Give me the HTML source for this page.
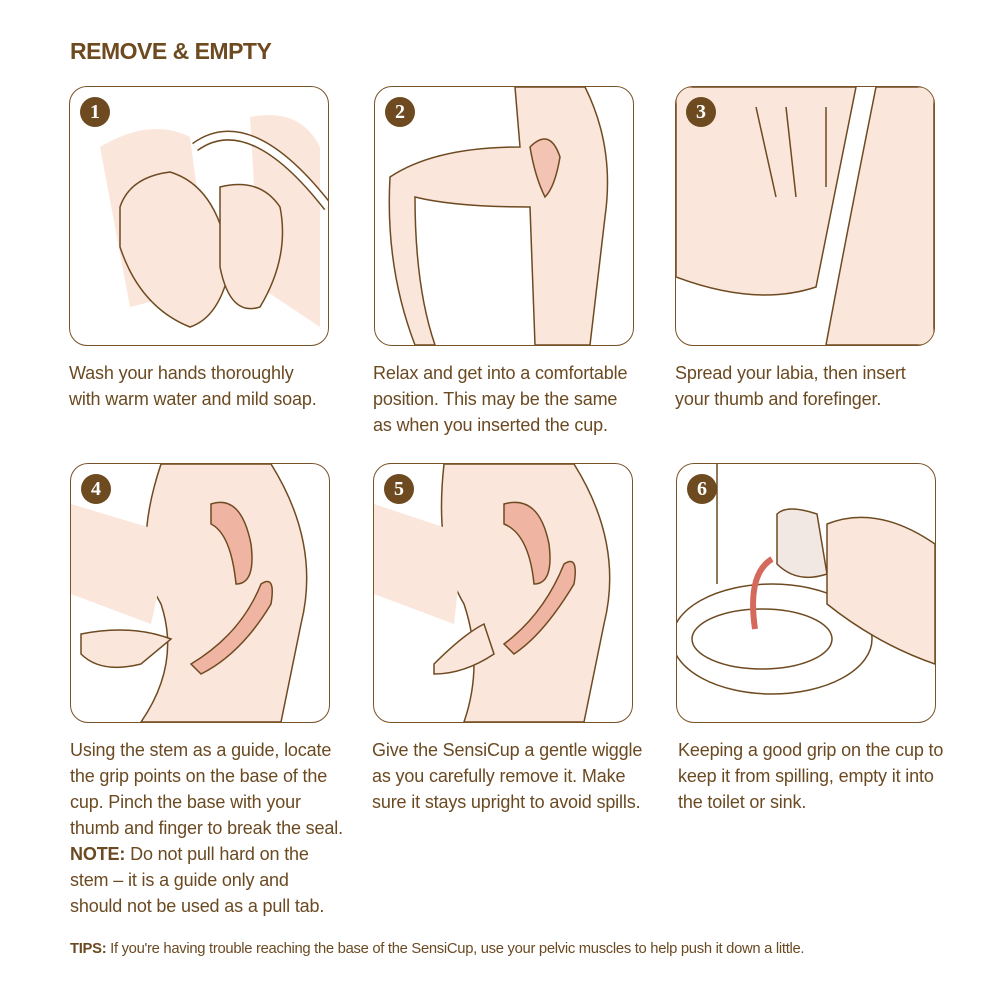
<!DOCTYPE html>
<html><head><meta charset="utf-8"><style>
body{margin:0;width:1000px;height:1000px;background:#fff;position:relative;font-family:"Liberation Sans",sans-serif;color:#6b4a22;overflow:hidden}
h1{position:absolute;left:70px;top:38px;margin:0;font-size:23px;font-weight:bold;color:#6e4a21;letter-spacing:-0.5px}
.p{position:absolute;width:258px;height:258px;border:1.6px solid #7a5228;border-radius:18px;overflow:hidden;background:#fff}
.n{position:absolute;left:10px;top:10px;width:30px;height:30px;border-radius:50%;background:#6e4a21;color:#fff;font-size:20px;text-align:center;line-height:30px;z-index:2;font-family:"Liberation Serif",serif;font-weight:bold}
.t{position:absolute;font-size:18px;line-height:26px;white-space:nowrap;letter-spacing:-0.15px}
.tips{position:absolute;left:70px;top:941px;font-size:14.8px;white-space:nowrap;letter-spacing:-0.3px}
svg{position:absolute;left:0;top:0}
</style></head><body>
<h1>REMOVE &amp; EMPTY</h1>

<div class="p" style="left:69px;top:86px"><div class="n">1</div>
<svg width="258" height="258"><path d="M30 60 Q80 30 120 50 L140 200 L60 220Z" fill="#fbe6dc"/><path d="M180 30 Q230 20 250 60 L250 240 L190 200Z" fill="#fbe6dc"/>
<path d="M50 120 Q60 90 100 85 Q150 100 160 180 Q150 230 120 240 Q70 220 50 160Z" fill="#fbe6dc" stroke="#6e4a21" stroke-width="1.5"/>
<path d="M150 100 Q190 90 210 120 Q220 170 190 220 Q160 230 150 180Z" fill="#fbe6dc" stroke="#6e4a21" stroke-width="1.5"/>
<path d="M125 60 Q180 20 258 120" fill="none" stroke="#6e4a21" stroke-width="10"/><path d="M125 60 Q180 20 258 120" fill="none" stroke="#fff" stroke-width="7"/></svg></div>

<div class="p" style="left:374px;top:86px"><div class="n">2</div>
<svg width="258" height="258"><path d="M140 0 L210 0 Q240 60 230 130 L215 258 L160 258 L155 120 Q80 120 40 110 Q40 200 60 258 L40 258 Q10 180 15 90 Q60 60 145 60Z" fill="#fbe6dc" stroke="#6e4a21" stroke-width="1.5"/>
<path d="M155 60 Q175 40 185 70 Q180 100 170 110 Q160 90 155 60Z" fill="#f3c3b4" stroke="#6e4a21" stroke-width="1.5"/></svg></div>

<div class="p" style="left:675px;top:86px"><div class="n">3</div>
<svg width="258" height="258"><path d="M0 0 L180 0 L140 200 Q80 220 0 190Z" fill="#fbe6dc" stroke="#6e4a21" stroke-width="1.5"/><path d="M200 0 L258 0 L258 258 L150 258 Q170 150 200 0Z" fill="#fbe6dc" stroke="#6e4a21" stroke-width="1.5"/>
<path d="M80 20 L100 110 M110 20 L120 110 M150 20 L150 100" stroke="#6e4a21" stroke-width="1.5" fill="none"/></svg></div>

<div class="p" style="left:70px;top:463px"><div class="n">4</div>
<svg width="258" height="258"><path d="M90 0 L200 0 Q250 80 230 160 L210 258 L70 258 Q110 200 90 140 Q60 90 90 0Z" fill="#fbe6dc" stroke="#6e4a21" stroke-width="1.5"/>
<path d="M0 40 L100 70 L80 160 L0 130Z" fill="#fbe6dc"/>
<path d="M140 40 Q170 30 180 80 Q185 120 165 120 Q160 70 140 60Z" fill="#f0b5a2" stroke="#6e4a21" stroke-width="1.5"/>
<path d="M190 120 Q205 110 200 140 Q170 190 130 210 L120 200 Q170 170 190 120Z" fill="#f0b5a2" stroke="#6e4a21" stroke-width="1.5"/>
<path d="M10 170 Q60 160 100 175 L70 200 Q30 210 10 190Z" fill="#fbe6dc" stroke="#6e4a21" stroke-width="1.5"/></svg></div>

<div class="p" style="left:373px;top:463px"><div class="n">5</div>
<svg width="258" height="258"><path d="M70 0 L200 0 Q250 80 230 160 L210 258 L90 258 Q110 200 90 140 Q60 90 70 0Z" fill="#fbe6dc" stroke="#6e4a21" stroke-width="1.5"/>
<path d="M0 40 L90 70 L80 160 L0 130Z" fill="#fbe6dc"/>
<path d="M130 40 Q165 30 175 80 Q180 120 160 120 Q155 70 130 60Z" fill="#f0b5a2" stroke="#6e4a21" stroke-width="1.5"/>
<path d="M190 100 Q205 90 200 120 Q170 170 140 190 L130 180 Q170 150 190 100Z" fill="#f0b5a2" stroke="#6e4a21" stroke-width="1.5"/>
<path d="M60 200 Q90 170 110 160 L120 190 Q90 210 60 210Z" fill="#fbe6dc" stroke="#6e4a21" stroke-width="1.5"/></svg></div>

<div class="p" style="left:676px;top:463px"><div class="n">6</div>
<svg width="258" height="258"><path d="M40 0 L40 120" stroke="#6e4a21" stroke-width="1.5"/>
<ellipse cx="95" cy="175" rx="100" ry="55" fill="#fff" stroke="#6e4a21" stroke-width="1.5"/><ellipse cx="85" cy="175" rx="70" ry="30" fill="none" stroke="#6e4a21" stroke-width="1.5"/>
<path d="M100 50 Q110 40 140 50 L150 110 Q120 120 100 100Z" fill="#f1e7e3" stroke="#6e4a21" stroke-width="1.5"/>
<path d="M95 95 Q70 110 78 165" stroke="#d46a5c" stroke-width="6" fill="none"/>
<path d="M150 60 Q200 40 258 80 L258 200 Q200 180 150 140Z" fill="#fbe6dc" stroke="#6e4a21" stroke-width="1.5"/></svg></div>

<div class="t" style="left:69px;top:360px">Wash your hands thoroughly<br>with warm water and mild soap.</div>
<div class="t" style="left:373px;top:360px">Relax and get into a comfortable<br>position. This may be the same<br>as when you inserted the cup.</div>
<div class="t" style="left:675px;top:360px">Spread your labia, then insert<br>your thumb and forefinger.</div>
<div class="t" style="left:70px;top:737px">Using the stem as a guide, locate<br>the grip points on the base of the<br>cup. Pinch the base with your<br>thumb and finger to break the seal.<br><b>NOTE:</b> Do not pull hard on the<br>stem – it is a guide only and<br>should not be used as a pull tab.</div>
<div class="t" style="left:372px;top:737px">Give the SensiCup a gentle wiggle<br>as you carefully remove it. Make<br>sure it stays upright to avoid spills.</div>
<div class="t" style="left:678px;top:737px">Keeping a good grip on the cup to<br>keep it from spilling, empty it into<br>the toilet or sink.</div>
<div class="tips"><b>TIPS:</b> If you're having trouble reaching the base of the SensiCup, use your pelvic muscles to help push it down a little.</div>
</body></html>
